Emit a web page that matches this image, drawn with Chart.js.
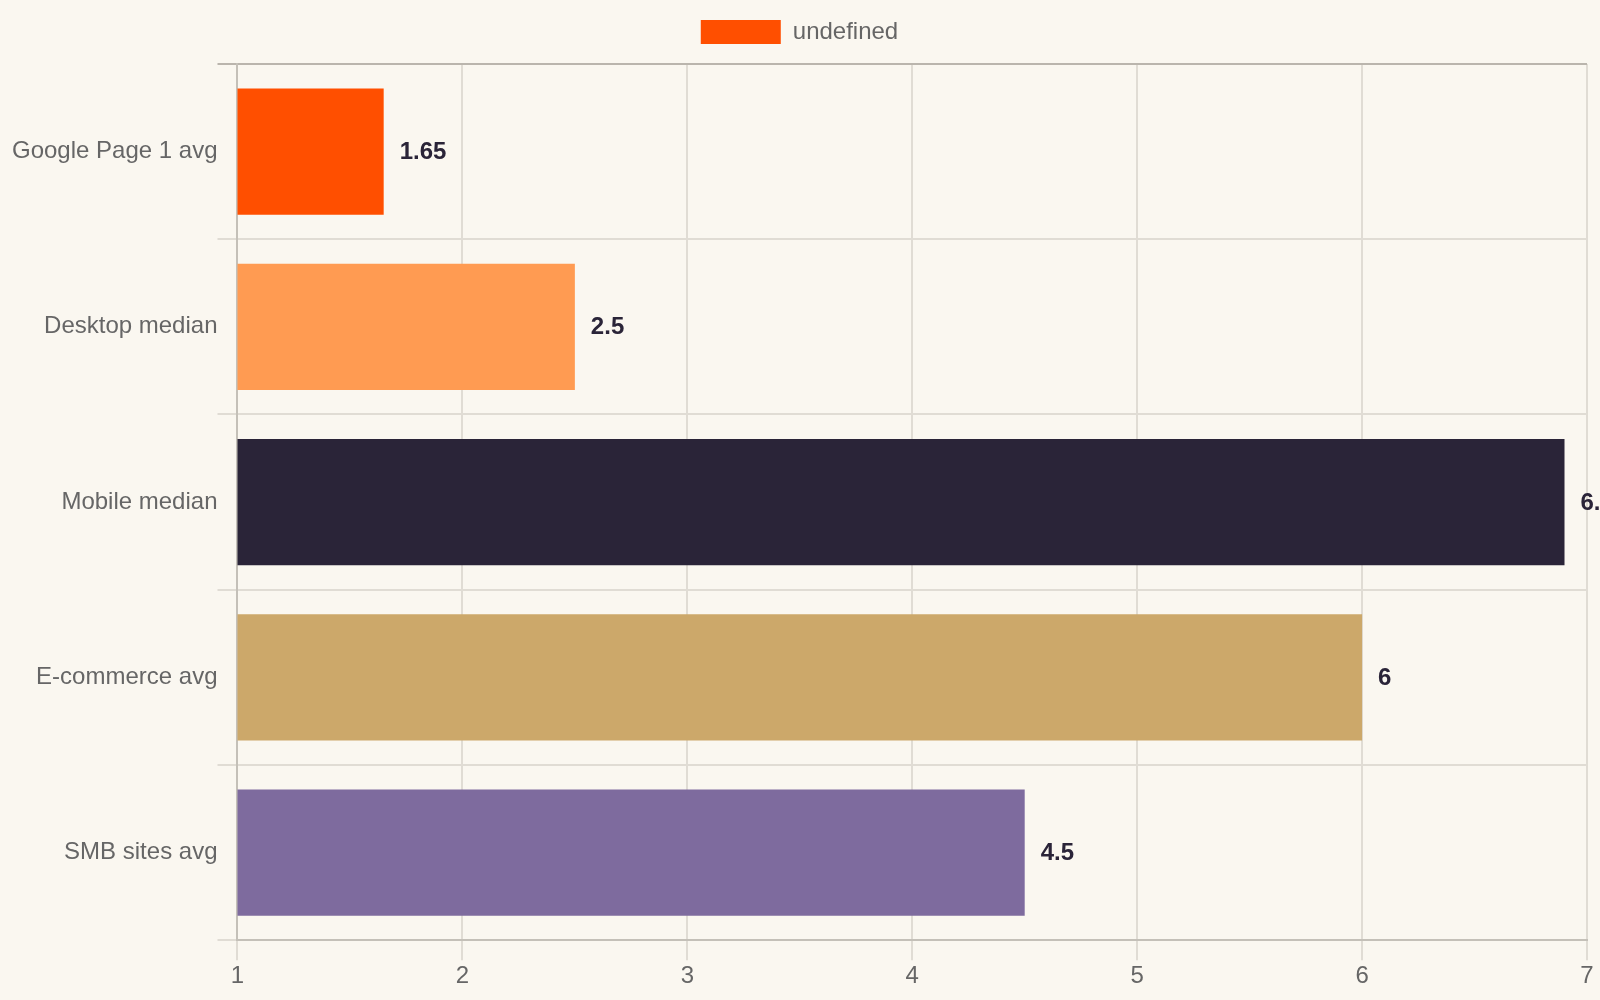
<!DOCTYPE html>
<html>
<head>
<meta charset="utf-8">
<script src="https://cdn.jsdelivr.net/npm/chart.js@4"></script>
<style>
    html, body { margin: 0; padding: 0; background: #faf7f0; }
    .chart-box { width: 1600px; height: 1000px; }
</style>
</head>
<body>
<div class="chart-box"><canvas id="loadChart"></canvas></div>
<script>
// Data
const categories = ['Google Page 1 avg', 'Desktop median', 'Mobile median', 'E-commerce avg', 'SMB sites avg'];
const loadSeconds = [1.65, 2.5, 6.9, 6, 4.5];
const barColors = ['#ff4f00', '#ff9b52', '#2a2438', '#cca86a', '#7e6b9e'];
const xTicks = [1, 2, 3, 4, 5, 6, 7];

// Value labels at the end of each bar
const valueLabels = {
    id: 'valueLabels',
    afterDatasetsDraw(chart) {
        const ctx = chart.ctx;
        const meta = chart.getDatasetMeta(0);
        ctx.save();
        ctx.font = 'bold 24px "Liberation Sans", Arial, sans-serif';
        ctx.fillStyle = '#2a2438';
        ctx.textAlign = 'left';
        ctx.textBaseline = 'middle';
        meta.data.forEach((bar, i) => {
            ctx.fillText(String(loadSeconds[i]), bar.x + 16, bar.y + 1);
        });
        ctx.restore();
    }
};

// Extra space under the legend
const legendGap = {
    id: 'legendGap',
    beforeInit(chart) {
        const fitLegend = chart.legend.fit;
        chart.legend.fit = function () {
            fitLegend.call(this);
            this.height += 10;
        };
    }
};

Chart.defaults.font.family = '"Liberation Sans", Arial, sans-serif';
Chart.defaults.font.size = 24;
Chart.defaults.color = '#666666';

new Chart(document.getElementById('loadChart'), {
    type: 'bar',
    data: {
        labels: categories,
        datasets: [{
            label: 'undefined',
            data: loadSeconds,
            backgroundColor: barColors,
            borderWidth: 0
        }]
    },
    options: {
        indexAxis: 'y',
        responsive: true,
        maintainAspectRatio: false,
        animation: false,
        layout: { padding: { left: 12, right: 13, top: 10, bottom: 7 } },
        plugins: {
            legend: {
                labels: { boxWidth: 80, boxHeight: 24, padding: 10 }
            },
            tooltip: { enabled: false }
        },
        scales: {
            x: {
                min: 1,
                max: 7,
                afterBuildTicks: (axis) => { axis.ticks = xTicks.map(v => ({ value: v })); },
                grid: { color: '#e0dcd4', tickLength: 20, lineWidth: 2 },
                border: { color: '#c4c0b8', width: 2 },
                ticks: { padding: 2 }
            },
            y: {
                grid: {
                    color: (c) => c.index === 0 ? '#bab5ad' : '#e0dcd4',
                    tickLength: 20,
                    lineWidth: 2
                },
                border: { color: '#c4c0b8', width: 2 },
                ticks: { padding: 0 }
            }
        }
    },
    plugins: [valueLabels, legendGap]
});
</script>
</body>
</html>
